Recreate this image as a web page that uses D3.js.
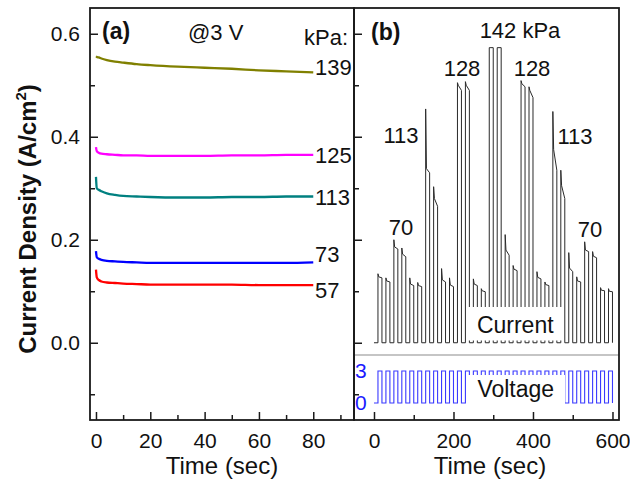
<!DOCTYPE html>
<html>
<head>
<meta charset="utf-8">
<script src="https://cdn.jsdelivr.net/npm/d3@7/dist/d3.min.js"></script>
<style>
  body { margin: 0; background: #fff; }
  text { font-family: Arial, "Liberation Sans", sans-serif; fill: #111; }
</style>
</head>
<body>
<div id="chart"></div>
<script>
// ---- panel (a): current density vs time at 3 V, one trace per pressure
const timeA = [0, 0.3, 1, 2, 4, 7, 10, 15, 20, 30, 40, 50, 60, 70, 80];
const j139 = [0.556, 0.555, 0.554, 0.552, 0.549, 0.546, 0.544, 0.541, 0.539, 0.536, 0.534, 0.532, 0.529, 0.527, 0.525];
const j125 = [0.380, 0.372, 0.369, 0.367, 0.366, 0.365, 0.364, 0.364, 0.363, 0.363, 0.363, 0.364, 0.364, 0.365, 0.365];
const j113 = [0.322, 0.300, 0.297, 0.294, 0.290, 0.287, 0.285, 0.284, 0.283, 0.282, 0.282, 0.283, 0.283, 0.284, 0.284];
const j73  = [0.178, 0.166, 0.163, 0.161, 0.159, 0.158, 0.157, 0.156, 0.155, 0.155, 0.155, 0.155, 0.155, 0.155, 0.156];
const j57  = [0.142, 0.127, 0.122, 0.119, 0.117, 0.116, 0.115, 0.114, 0.113, 0.113, 0.113, 0.113, 0.112, 0.112, 0.112];
const pressuresA = ['139', '125', '113', '73', '57'];
const colorsA = ['#808000', '#ff00ff', '#008080', '#0000ff', '#ff0000'];

// ---- panel (b): pulsed current response (on/off 3 V) while pressure is stepped
const pulseOn = [10, 30, 50, 70, 90, 110, 130, 150, 170, 190, 210, 230, 250, 270, 290,
                 310, 330, 350, 370, 390, 410, 430, 450, 470, 490, 510, 530, 550, 570, 590];
const pulseWidth = 10;
const pulsePeak = [0.134, 0.126, 0.200, 0.184, 0.126, 0.117, 0.454, 0.303, 0.144, 0.126,
                   0.505, 0.507, 0.124, 0.105, 0.573, 0.573, 0.210, 0.150, 0.509, 0.497,
                   0.138, 0.118, 0.449, 0.335, 0.175, 0.128, 0.196, 0.177, 0.107, 0.105];
const pulseKnee = [0.128, 0.120, 0.186, 0.172, 0.114, 0.111, 0.338, 0.280, 0.122, 0.112,
                   0.500, 0.500, 0.114, 0.101, 0.573, 0.573, 0.180, 0.143, 0.503, 0.490,
                   0.127, 0.113, 0.375, 0.305, 0.145, 0.120, 0.180, 0.168, 0.102, 0.100];
const pulseEnd  = [0.126, 0.118, 0.182, 0.167, 0.111, 0.109, 0.330, 0.265, 0.118, 0.109,
                   0.490, 0.490, 0.111, 0.099, 0.573, 0.573, 0.170, 0.140, 0.497, 0.476,
                   0.124, 0.111, 0.335, 0.280, 0.138, 0.118, 0.177, 0.165, 0.101, 0.099];
const pulseVolt = 3;
const traceEnd = 600;

const yTicksMajor = [0, 0.2, 0.4, 0.6];
const yTicksMinor = [-0.1, 0.1, 0.3, 0.5];
const xTicksA = [0, 20, 40, 60, 80];
const xMinorA = [10, 30, 50, 70, 90];
const xTicksB = [0, 200, 400, 600];
const xMinorB = [100, 300, 500];

const W = 630, H = 486;
const mTop = 8, mBottom = 420, mLeft = 90, mMid = 354, mRight = 619;

const svg = d3.select('#chart').append('svg')
  .attr('width', W).attr('height', H);

const xA = d3.scaleLinear().domain([-2.2, 95]).range([mLeft, mMid]);
const xB = d3.scaleLinear().domain([-50.3, 616.4]).range([mMid, mRight]);
const y = d3.scaleLinear().domain([-0.15, 0.65]).range([mBottom, mTop]);
const yV = d3.scaleLinear().domain([-1.6, 4.5]).range([mBottom, 355]);

function styleAxis(g) {
  g.select('.domain').remove();
  g.selectAll('.tick line').attr('stroke', '#1a1a1a').attr('stroke-width', 1.5);
  g.selectAll('.tick text').attr('font-size', 21).attr('fill', '#111')
    .attr('font-family', 'Arial, "Liberation Sans", sans-serif');
}

// panel a axes
svg.append('g').attr('transform', `translate(${mLeft},0)`)
  .call(d3.axisLeft(y).tickValues(yTicksMajor).tickFormat(d3.format('.1f'))
    .tickSizeInner(-8).tickSizeOuter(0).tickPadding(10))
  .call(styleAxis);
svg.append('g').attr('transform', `translate(${mLeft},0)`)
  .call(d3.axisLeft(y).tickValues(yTicksMinor).tickFormat('').tickSizeInner(-5).tickSizeOuter(0))
  .call(styleAxis);
svg.append('g').attr('transform', `translate(0,${mBottom})`)
  .call(d3.axisBottom(xA).tickValues(xTicksA).tickSizeInner(-8).tickSizeOuter(0).tickPadding(13))
  .call(styleAxis);
svg.append('g').attr('transform', `translate(0,${mBottom})`)
  .call(d3.axisBottom(xA).tickValues(xMinorA).tickFormat('').tickSizeInner(-5).tickSizeOuter(0))
  .call(styleAxis);

// panel b axes
svg.append('g').attr('transform', `translate(${mMid},0)`)
  .call(d3.axisLeft(y).tickValues(yTicksMajor).tickFormat('').tickSizeInner(-8).tickSizeOuter(0))
  .call(styleAxis);
svg.append('g').attr('transform', `translate(${mMid},0)`)
  .call(d3.axisLeft(y).tickValues(yTicksMinor).tickFormat('').tickSizeInner(-5).tickSizeOuter(0))
  .call(styleAxis);
svg.append('g').attr('transform', `translate(0,${mBottom})`)
  .call(d3.axisBottom(xB).tickValues(xTicksB).tickSizeInner(-8).tickSizeOuter(0).tickPadding(13))
  .call(styleAxis);
svg.append('g').attr('transform', `translate(0,${mBottom})`)
  .call(d3.axisBottom(xB).tickValues(xMinorB).tickFormat('').tickSizeInner(-5).tickSizeOuter(0))
  .call(styleAxis);

// panel a traces
const seriesA = [j139, j125, j113, j73, j57];
const lineA = d3.line()
  .x((d, i) => xA(timeA[i]))
  .y(d => y(d))
  .curve(d3.curveMonotoneX);
svg.append('g').selectAll('path')
  .data(seriesA)
  .join('path')
  .attr('d', lineA)
  .attr('fill', 'none')
  .attr('stroke', (d, i) => colorsA[i])
  .attr('stroke-width', 2.3);

// panel b: build current and voltage step traces
const curPts = [[0, 0]];
const voltPts = [[0, 0]];
pulseOn.forEach((t, i) => {
  curPts.push([t, 0], [t, pulsePeak[i]], [t + 2, pulseKnee[i]],
              [t + pulseWidth, pulseEnd[i]], [t + pulseWidth, 0]);
  voltPts.push([t, 0], [t, pulseVolt], [t + pulseWidth, pulseVolt], [t + pulseWidth, 0]);
});
curPts.push([traceEnd, 0]);
voltPts.push([traceEnd, 0]);

svg.append('path')
  .datum(curPts)
  .attr('d', d3.line().x(d => xB(d[0])).y(d => y(d[1])))
  .attr('fill', 'none')
  .attr('stroke', '#2a2a2a')
  .attr('stroke-width', 1);

svg.append('path')
  .datum(voltPts)
  .attr('d', d3.line().x(d => xB(d[0])).y(d => yV(d[1])))
  .attr('fill', 'none')
  .attr('stroke', '#3a3aff')
  .attr('stroke-width', 1.1);

// separator between current and voltage
svg.append('line')
  .attr('x1', mMid).attr('x2', mRight)
  .attr('y1', yV(4.5)).attr('y2', yV(4.5))
  .attr('stroke', '#8c8c8c').attr('stroke-width', 1.2);

// label boxes with white background
function boxLabel(txt, x0, x1, y0, y1, baseline) {
  svg.append('rect')
    .attr('x', x0).attr('y', y0).attr('width', x1 - x0).attr('height', y1 - y0)
    .attr('fill', '#fff');
  svg.append('text')
    .attr('x', (x0 + x1) / 2).attr('y', baseline)
    .attr('text-anchor', 'middle').attr('font-size', 23)
    .text(txt);
}
boxLabel('Current', 466.5, 564, 307, 340.5, 333);
boxLabel('Voltage', 466.5, 565, 375, 407, 397);

// voltage tick labels
[3, 0].forEach(v => {
  svg.append('text')
    .attr('x', 355).attr('y', yV(v)).attr('dy', '0.35em')
    .attr('font-size', 21)
    .style('fill', '#1a1aff')
    .text(v);
});

// frames
svg.append('rect').attr('x', mLeft).attr('y', mTop).attr('width', mMid - mLeft).attr('height', mBottom - mTop)
  .attr('fill', 'none').attr('stroke', '#1a1a1a').attr('stroke-width', 1.8);
svg.append('rect').attr('x', mMid).attr('y', mTop).attr('width', mRight - mMid).attr('height', mBottom - mTop)
  .attr('fill', 'none').attr('stroke', '#1a1a1a').attr('stroke-width', 1.8);

// annotations
function note(txt, x, yy, opts = {}) {
  svg.append('text')
    .attr('x', x).attr('y', yy)
    .attr('font-size', opts.size || 22)
    .attr('font-weight', opts.bold ? 'bold' : 'normal')
    .attr('text-anchor', opts.anchor || 'start')
    .text(txt);
}
note('(a)', 102, 39, { bold: true, size: 23 });
note('@3 V', 188, 40);
note('kPa:', 304, 45);
const labelBaselines = [75, 163, 205, 262, 298];
pressuresA.forEach((p, i) => note(p, 315, labelBaselines[i]));

note('(b)', 371, 40, { bold: true, size: 23 });
note('142 kPa', 520, 38, { anchor: 'middle' });
note('128', 462, 76, { anchor: 'middle' });
note('128', 532, 76, { anchor: 'middle' });
note('113', 401, 143, { anchor: 'middle' });
note('113', 575, 144, { anchor: 'middle' });
note('70', 401, 235, { anchor: 'middle' });
note('70', 590, 237, { anchor: 'middle' });

// axis titles
note('Time (sec)', 222, 474, { anchor: 'middle', size: 24 });
note('Time (sec)', 490, 474, { anchor: 'middle', size: 24 });

const yt = svg.append('text')
  .attr('transform', 'translate(36,219) rotate(-90)')
  .attr('text-anchor', 'middle')
  .attr('font-size', 24)
  .attr('font-weight', 'bold');
yt.append('tspan').text('Current Density (A/cm');
yt.append('tspan').attr('font-size', 15).attr('dy', -10).text('2');
yt.append('tspan').attr('dy', 10).text(')');
</script>
</body>
</html>
